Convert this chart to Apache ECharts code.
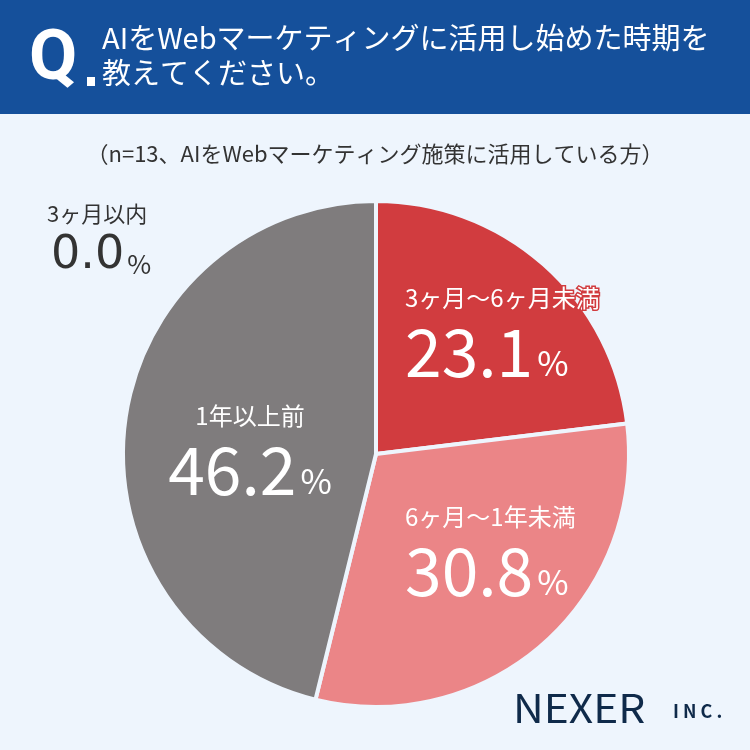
<!DOCTYPE html>
<html>
<head>
<meta charset="utf-8">
<script src="https://cdn.jsdelivr.net/npm/echarts@6/dist/echarts.min.js"></script>
<style>
  html, body { margin: 0; padding: 0; background: #eef5fd; }
  #main { width: 750px; height: 750px; }
</style>
</head>
<body>
<div id="main"></div>
<script>
// data
var categories = ['3ヶ月以内', '3ヶ月～6ヶ月未満', '6ヶ月～1年未満', '1年以上前'];
var values = [0.0, 23.1, 30.8, 46.2];
var colors = ['#7f7c7d', '#d13c3f', '#eb8587', '#7f7c7d'];

var FONT = '"Noto Sans CJK JP", "Noto Sans", sans-serif';

// where each label block sits (x, y of its anchor, alignment)
var labelPos = [[47, 240, 'left'], [405, 334, 'left'], [405, 553, 'left'], [250, 452, 'center']];

var chart = echarts.init(document.getElementById('main'));

var rich = {
    name: { fontSize: 24, color: '#fff', fontFamily: FONT, lineHeight: 36 },
    nameRed: { fontSize: 24, color: '#fff', fontFamily: FONT, lineHeight: 36, textBorderColor: '#d13c3f', textBorderWidth: 3 },
    num: { fontSize: 66, color: '#fff', fontFamily: FONT, fontWeight: 400, lineHeight: 72 },
    pct: { fontSize: 34, color: '#fff', fontFamily: FONT, lineHeight: 72, verticalAlign: 'bottom', padding: [0, 0, 8, 4] },
    nameDark: { fontSize: 22, color: '#333', fontFamily: FONT, lineHeight: 32 },
    numDark: { fontSize: 46, color: '#333', fontFamily: '"DejaVu Sans", sans-serif', lineHeight: 52, padding: [0, 0, 0, 4] },
    pctDark: { fontSize: 26, color: '#333', fontFamily: FONT, lineHeight: 52, verticalAlign: 'bottom', padding: [0, 0, 5, 3] }
};

var data = categories.map(function (c, i) {
    return { name: c, value: values[i], itemStyle: { color: colors[i] } };
});

var option = {
    backgroundColor: '#eef5fd',
    animation: false,
    graphic: [
        { type: 'rect', left: 0, top: 0, shape: { width: 750, height: 114 }, style: { fill: '#15509b' } },
        { type: 'text', x: 29, y: 26, style: { text: 'Q', fill: '#fff', font: 'bold 70px Roboto, sans-serif' } },
        { type: 'rect', x: 87, y: 77, shape: { width: 8, height: 9 }, style: { fill: '#fff' } },
        { type: 'text', left: 102, top: 20, style: { text: 'AIをWebマーケティングに活用し始めた時期を\n教えてください。', fill: '#fff', font: '29px ' + FONT, lineHeight: 35 } },
        { type: 'text', left: 'center', top: 143, style: { text: '（n=13、AIをWebマーケティング施策に活用している方）', fill: '#333', font: '22px ' + FONT } },
        { type: 'text', x: 513, y: 689, scaleX: 1.09, style: { text: 'NEXER', fill: '#0f2a4a', font: '39px ' + FONT } },
        { type: 'text', left: 673, top: 702, style: { text: 'I N C .', fill: '#0f2a4a', font: 'bold 18px ' + FONT } }
    ],
    series: [{
        type: 'pie',
        center: [376, 454],
        radius: [0, 253],
        startAngle: 90,
        clockwise: true,
        avoidLabelOverlap: false,
        stillShowZeroSum: true,
        itemStyle: { borderColor: '#eef5fd', borderWidth: 4 },
        label: {
            show: true,
            position: 'inside',
            formatter: function (p) {
                var v = p.value.toFixed(1);
                if (p.dataIndex === 0) return '{nameDark|' + p.name + '}\n{numDark|' + v + '}{pctDark|%}';
                var n = p.dataIndex === 1 ? 'nameRed' : 'name';
                return '{' + n + '|' + p.name + '}\n{num|' + v + '}{pct|%}';
            },
            rich: rich
        },
        labelLayout: function (params) {
            var lp = labelPos[params.dataIndex];
            return { x: lp[0], y: lp[1], align: lp[2], verticalAlign: 'middle' };
        },
        labelLine: { show: false },
        emphasis: { disabled: true },
        data: data
    }]
};

chart.setOption(option);
</script>
</body>
</html>
